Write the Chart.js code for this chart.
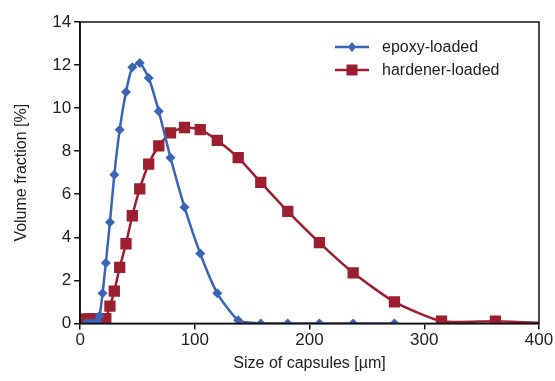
<!DOCTYPE html>
<html>
<head>
<meta charset="utf-8">
<script src="https://cdn.jsdelivr.net/npm/chart.js@4/dist/chart.umd.min.js"></script>
<style>
  html, body { margin: 0; padding: 0; background: #fff; }
  #wrap { width: 555px; height: 381px; }
</style>
</head>
<body>
<div id="wrap"><canvas id="chart"></canvas></div>
<script>
// capsule size bins [µm]
const sizes = [5, 6.5, 8.5, 11, 13, 15, 17, 19.6, 22.4,
  26, 29.8, 34.5, 40, 45.5, 52, 59.8, 68.6, 78.8, 91,
  104.7, 119.6, 137.8, 157.5, 181, 208.6, 238, 274,
  315, 362, 416];

// volume fraction [%]
const epoxy = [0, 0, 0, 0, 0, 0.1, 0.35, 1.4, 2.8,
  4.7, 6.9, 9.0, 10.75, 11.9, 12.1, 11.4, 9.85, 7.7, 5.4,
  3.25, 1.4, 0.15, 0, 0, 0, 0, 0];

const hardener = [0.2, 0.2, 0.2, 0.2, 0.2, 0.2, 0.2, 0.2, 0.22,
  0.8, 1.5, 2.6, 3.7, 5.0, 6.25, 7.4, 8.25, 8.85, 9.1,
  9.0, 8.5, 7.7, 6.55, 5.2, 3.75, 2.35, 1.0,
  0.1, 0.1, 0];

const xTicks = [0, 100, 200, 300, 400];
const yTicks = [0, 2, 4, 6, 8, 10, 12, 14];

const blue = "#3a65b7";
const red = "#9c1f30";
const FONT = "'Liberation Sans', Arial, sans-serif";

function points(vals) {
  return vals.map((v, i) => ({ x: sizes[i], y: v }));
}

// frame round the plot + legend inside top right
const framePlugin = {
  id: "frame",
  afterDraw(chart) {
    const { ctx, chartArea: a } = chart;
    ctx.save();
    ctx.strokeStyle = "#111";
    ctx.lineWidth = 1.5;
    ctx.strokeRect(a.left, a.top, a.right - a.left, a.bottom - a.top);

    ctx.font = "16px " + FONT;
    ctx.textBaseline = "middle";
    chart.data.datasets.forEach((ds, i) => {
      const y = a.top + 25 + i * 23;
      const x0 = 335;
      ctx.strokeStyle = ds.borderColor;
      ctx.lineWidth = 2.5;
      ctx.beginPath();
      ctx.moveTo(x0, y);
      ctx.lineTo(x0 + 34, y);
      ctx.stroke();
      ctx.fillStyle = ds.borderColor;
      ctx.beginPath();
      if (i === 0) {
        ctx.moveTo(x0 + 17, y - 5);
        ctx.lineTo(x0 + 21, y);
        ctx.lineTo(x0 + 17, y + 5);
        ctx.lineTo(x0 + 13, y);
        ctx.closePath();
      } else {
        ctx.rect(x0 + 11.5, y - 5.5, 11, 11);
      }
      ctx.fill();
      ctx.fillStyle = "#222";
      ctx.fillText(ds.label, x0 + 47, y + 1);
    });
    ctx.restore();
  }
};

new Chart(document.getElementById("chart"), {
  type: "line",
  data: {
    datasets: [
      {
        label: "epoxy-loaded",
        data: points(epoxy),
        borderColor: blue,
        backgroundColor: blue,
        borderWidth: 2.5,
        pointStyle: "rectRot",
        pointRadius: 5,
        pointHoverRadius: 5,
        pointBorderWidth: 0,
        tension: 0.2
      },
      {
        label: "hardener-loaded",
        data: points(hardener),
        borderColor: red,
        backgroundColor: red,
        borderWidth: 2.5,
        pointStyle: "rect",
        pointRadius: 8,
        pointHoverRadius: 8,
        pointBorderWidth: 0,
        tension: 0.2
      }
    ]
  },
  options: {
    responsive: true,
    maintainAspectRatio: false,
    animation: false,
    layout: { padding: { top: 22, right: 16, left: 8, bottom: 8 } },
    plugins: {
      legend: { display: false },
      tooltip: { enabled: false }
    },
    scales: {
      x: {
        type: "linear",
        min: 0,
        max: 400,
        afterBuildTicks: (s) => { s.ticks = xTicks.map((v) => ({ value: v })); },
        grid: { drawOnChartArea: false, tickLength: 6, color: "#111", lineWidth: 1.5 },
        border: { color: "#111", width: 1.5 },
        ticks: { color: "#222", font: { size: 17, family: FONT }, padding: 1 },
        title: {
          display: true,
          text: "Size of capsules [µm]",
          color: "#222",
          font: { size: 16, family: FONT },
          padding: { top: 2, bottom: 0 }
        }
      },
      y: {
        min: 0,
        max: 14,
        afterBuildTicks: (s) => { s.ticks = yTicks.map((v) => ({ value: v })); },
        grid: { drawOnChartArea: false, tickLength: 6, color: "#111", lineWidth: 1.5 },
        border: { color: "#111", width: 1.5 },
        ticks: { color: "#222", font: { size: 17, family: FONT }, padding: 3 },
        title: {
          display: true,
          text: "Volume fraction [%]",
          color: "#222",
          font: { size: 16, family: FONT },
          padding: { bottom: 18 }
        }
      }
    }
  },
  plugins: [framePlugin]
});
</script>
</body>
</html>
